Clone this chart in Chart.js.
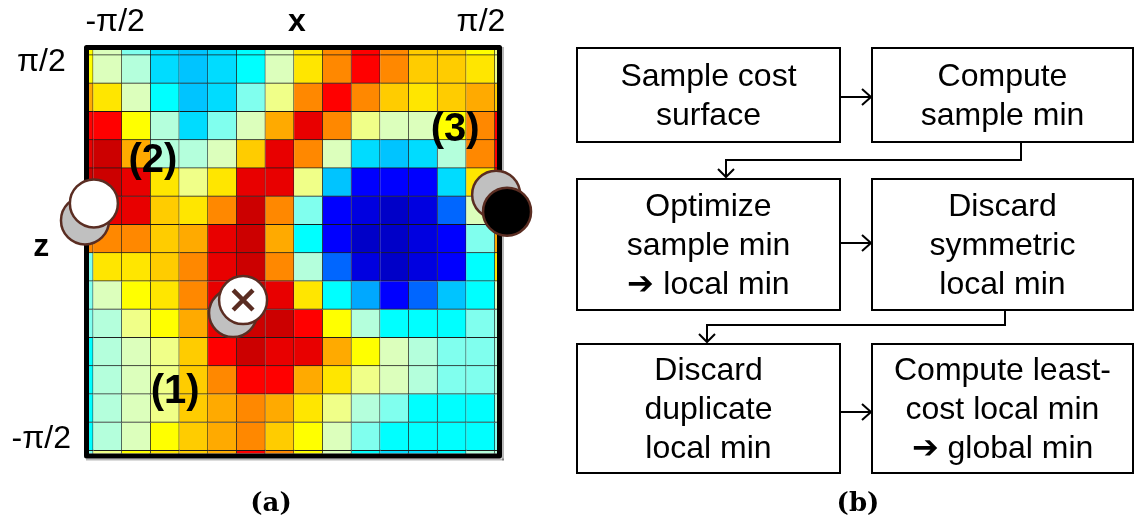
<!DOCTYPE html>
<html>
<head>
<meta charset="utf-8">
<script src="https://cdn.jsdelivr.net/npm/chart.js@4.4.1/dist/chart.umd.min.js"></script>
<style>
  html, body { margin: 0; padding: 0; background: #fff; }
  body { width: 1137px; height: 525px; position: relative; overflow: hidden; font-family: "Liberation Sans", Arial, sans-serif; }
  #heat { position: absolute; left: 0; top: 0; }
  svg { position: absolute; left: 0; top: 0; }
  .box { position: absolute; box-sizing: border-box; border: 2px solid #000; display: flex; align-items: center; justify-content: center; text-align: center; font-size: 32px; line-height: 39px; color: #000; white-space: nowrap; }
  .cap { position: absolute; font-family: "DejaVu Serif", "Liberation Serif", serif; font-weight: bold; font-size: 26px; transform: translateX(-50%); }
</style>
</head>
<body>
<canvas id="heat" width="560" height="480"></canvas>

<svg width="1137" height="525">
  <g stroke="#000" stroke-width="2" fill="none">
    <line x1="841" y1="97" x2="871" y2="97"/>
    <polyline points="862,89 871,97 862,105"/>
    <polyline points="1021,143 1021,160 726,160 726,177"/>
    <polyline points="718,169 726,177 734,169"/>
    <line x1="841" y1="243" x2="871" y2="243"/>
    <polyline points="862,235 871,243 862,251"/>
    <polyline points="1005,310 1005,325 707,325 707,342"/>
    <polyline points="699,334 707,342 715,334"/>
    <line x1="841" y1="412" x2="871" y2="412"/>
    <polyline points="862,404 871,412 862,420"/>
  </g>
</svg>

<div class="box" style="left:576px;top:47px;width:265px;height:96px">Sample cost<br>surface</div>
<div class="box" style="left:871px;top:47px;width:263px;height:96px">Compute<br>sample min</div>
<div class="box" style="left:576px;top:178px;width:265px;height:133px">Optimize<br>sample min<br>➔ local min</div>
<div class="box" style="left:871px;top:178px;width:263px;height:133px">Discard<br>symmetric<br>local min</div>
<div class="box" style="left:576px;top:343px;width:265px;height:131px">Discard<br>duplicate<br>local min</div>
<div class="box" style="left:871px;top:343px;width:263px;height:131px">Compute least-<br>cost local min<br>➔ global min</div>

<div class="cap" style="left:271px;top:487px">(a)</div>
<div class="cap" style="left:858px;top:487px">(b)</div>

<script>
// colour levels of the cost surface, low (blue) to high (dark red)
const levelColors = [
    '#0000c8', '#0000e0', '#0000ff', '#0066ff', '#00a8ff',
    '#00c4ff', '#00dcff', '#00ffff', '#80ffee', '#b4ffdc',
    '#dcffbc', '#f0ff88', '#ffff00', '#ffe600', '#ffcc00',
    '#ffaa00', '#ff8800', '#ff0000', '#e80000', '#cc0000'
];

// grid cells; index -1 and 14 are the partial cells cut by the frame
const colIndex = [-1, 0, 1, 2, 3, 4, 5, 6, 7, 8, 9, 10, 11, 12, 13, 14];
const rowIndex = [-1, 0, 1, 2, 3, 4, 5, 6, 7, 8, 9, 10, 11, 12, 13, 14];

// cost level per cell, rows top to bottom, columns left to right
const costRows = [
    [12, 10, 8, 6, 5, 6, 7, 10, 13, 16, 17, 16, 14, 14, 12, 11],
    [12, 10, 9, 6, 5, 6, 7, 10, 13, 16, 17, 16, 14, 14, 13, 11],
    [15, 13, 10, 7, 5, 6, 8, 11, 16, 17, 16, 14, 13, 14, 15, 14],
    [17, 17, 12, 9, 6, 8, 10, 15, 18, 16, 11, 10, 10, 12, 16, 17],
    [18, 19, 15, 9, 9, 10, 14, 18, 16, 10, 6, 5, 6, 9, 16, 17],
    [19, 19, 18, 13, 11, 13, 18, 18, 11, 5, 2, 2, 2, 6, 13, 17],
    [18, 18, 18, 14, 13, 16, 19, 16, 8, 2, 1, 0, 1, 3, 10, 17],
    [16, 16, 16, 14, 15, 18, 19, 15, 7, 2, 0, 0, 1, 2, 8, 15],
    [8, 13, 13, 14, 16, 18, 19, 16, 9, 3, 1, 0, 1, 2, 7, 13],
    [8, 10, 12, 13, 16, 18, 19, 18, 13, 7, 4, 2, 3, 5, 7, 10],
    [8, 9, 11, 12, 15, 18, 19, 19, 17, 12, 9, 7, 7, 7, 8, 9],
    [7, 9, 10, 11, 14, 17, 19, 18, 18, 15, 12, 10, 9, 8, 8, 9],
    [7, 9, 10, 11, 14, 16, 17, 17, 15, 13, 11, 10, 9, 8, 8, 9],
    [7, 9, 10, 11, 14, 15, 16, 15, 13, 11, 9, 8, 7, 7, 7, 9],
    [7, 9, 10, 12, 14, 15, 16, 14, 12, 10, 8, 7, 7, 7, 7, 8],
    [8, 11, 12, 13, 14, 15, 17, 16, 12, 10, 7, 6, 6, 7, 9, 9]
];

// visible window of the grid (in cell units)
const X_MIN = -0.65, X_MAX = 13.57;
const Z_MIN = -0.68, Z_MAX = 13.6;

// axis labels
const xTickPos = [0.26, 6.6, 13.01];
const xTickLabels = ['-π/2', 'x', 'π/2'];
const zTickPos = [-0.25, 6.31, 13.08];
const zTickLabels = ['π/2', 'z', '-π/2'];

// numbered regions
const regionText = ['(1)', '(2)', '(3)'];
const regionX = [2.35, 1.58, 12.11];
const regionZ = [11.42, 3.24, 2.14];

// markers: grey shadow discs, front discs, and the x mark
const shadowX = [-0.79, 13.54, 4.37];
const shadowZ = [5.35, 4.44, 8.63];
const discX = [-0.48, 13.92, 4.72];
const discZ = [4.75, 5.04, 8.17];
const discFill = ['#ffffff', '#000000', '#ffffff'];
const crossX = [4.72];
const crossZ = [8.17];

const FONT = '"Liberation Sans", Arial, sans-serif';
const BROWN = '#5a2d22';

const heatDatasets = costRows.map((row, r) => ({
    type: 'bar',
    data: row.map((lvl, c) => ({ x: colIndex[c], y: [rowIndex[r] - 0.5, rowIndex[r] + 0.5] })),
    backgroundColor: row.map(lvl => levelColors[lvl]),
    borderColor: 'rgba(0,0,0,0.88)',
    borderWidth: { top: 0, left: 0, right: 1, bottom: 1 },
    borderSkipped: false,
    grouped: false,
    barPercentage: 1,
    categoryPercentage: 1,
    order: 3
}));

const shadowDataset = {
    type: 'scatter',
    data: shadowX.map((x, i) => ({ x: x, y: shadowZ[i] })),
    pointRadius: 24,
    pointBackgroundColor: '#c0c0c0',
    pointBorderColor: BROWN,
    pointBorderWidth: 2.5,
    clip: false,
    order: 2
};

const discDataset = {
    type: 'scatter',
    data: discX.map((x, i) => ({ x: x, y: discZ[i] })),
    pointRadius: 24,
    pointBackgroundColor: discFill,
    pointBorderColor: BROWN,
    pointBorderWidth: 2.5,
    clip: false,
    order: 1
};

const crossDataset = {
    type: 'scatter',
    data: crossX.map((x, i) => ({ x: x, y: crossZ[i] })),
    pointStyle: 'crossRot',
    pointRadius: 14,
    pointBorderColor: BROWN,
    pointBorderWidth: 4.5,
    clip: false,
    order: 0
};

const allDatasets = heatDatasets.concat([shadowDataset, discDataset, crossDataset]);
const shadowIndex = heatDatasets.length;

// frame round the surface and the region numbers, drawn under the markers
const framePlugin = {
    id: 'frame',
    beforeDatasetDraw(chart, args) {
        if (args.index !== shadowIndex) return;
        const { left, top, right, bottom } = chart.chartArea;
        const ctx = chart.ctx;
        ctx.save();
        ctx.fillStyle = 'rgba(0,0,0,0.28)';
        ctx.fillRect(left - 3, bottom + 5, right - left + 10, 2);
        ctx.fillRect(right + 5, top - 3, 2, bottom - top + 10);
        ctx.lineWidth = 5;
        ctx.lineJoin = 'round';
        ctx.strokeStyle = '#000';
        ctx.strokeRect(left - 2.5, top - 2.5, right - left + 5, bottom - top + 5);

        const xs = chart.scales.x, ys = chart.scales.y;
        ctx.fillStyle = '#000';
        ctx.font = 'bold 40px ' + FONT;
        ctx.textAlign = 'center';
        ctx.textBaseline = 'middle';
        regionText.forEach((t, i) => {
            ctx.fillText(t, xs.getPixelForValue(regionX[i]), ys.getPixelForValue(regionZ[i]));
        });
        ctx.restore();
    }
};

new Chart(document.getElementById('heat'), {
    type: 'bar',
    data: { datasets: allDatasets },
    options: {
        responsive: false,
        animation: false,
        events: [],
        layout: { padding: { left: 0, top: 0, right: 63, bottom: 25 } },
        plugins: { legend: { display: false }, tooltip: { enabled: false } },
        scales: {
            x: { type: 'linear', min: X_MIN, max: X_MAX, offset: false, display: false },
            y: { type: 'linear', min: Z_MIN, max: Z_MAX, reverse: true, display: false },
            xLabels: {
                type: 'linear',
                position: 'top',
                min: X_MIN,
                max: X_MAX,
                offset: false,
                grid: { display: false, drawTicks: false, offset: false },
                border: { display: false },
                afterBuildTicks: axis => { axis.ticks = xTickPos.map(v => ({ value: v })); },
                afterFit: axis => { axis.height = 50; axis.paddingLeft = 0; axis.paddingRight = 0; },
                ticks: {
                    autoSkip: false,
                    maxRotation: 0,
                    padding: 9,
                    color: '#000',
                    font: c => ({ family: FONT, size: 32, weight: c.index === 1 ? 'bold' : 'normal' }),
                    callback: (v, i) => xTickLabels[i]
                }
            },
            zLabels: {
                type: 'linear',
                position: 'left',
                min: Z_MIN,
                max: Z_MAX,
                reverse: true,
                grid: { display: false, drawTicks: false },
                border: { display: false },
                afterBuildTicks: axis => { axis.ticks = zTickPos.map(v => ({ value: v })); },
                afterFit: axis => { axis.width = 89; axis.paddingTop = 0; axis.paddingBottom = 0; },
                ticks: {
                    autoSkip: false,
                    crossAlign: 'center',
                    padding: 18,
                    color: '#000',
                    font: c => ({ family: FONT, size: 32, weight: c.index === 1 ? 'bold' : 'normal' }),
                    callback: (v, i) => zTickLabels[i]
                }
            }
        }
    },
    plugins: [framePlugin]
});
</script>
</body>
</html>
